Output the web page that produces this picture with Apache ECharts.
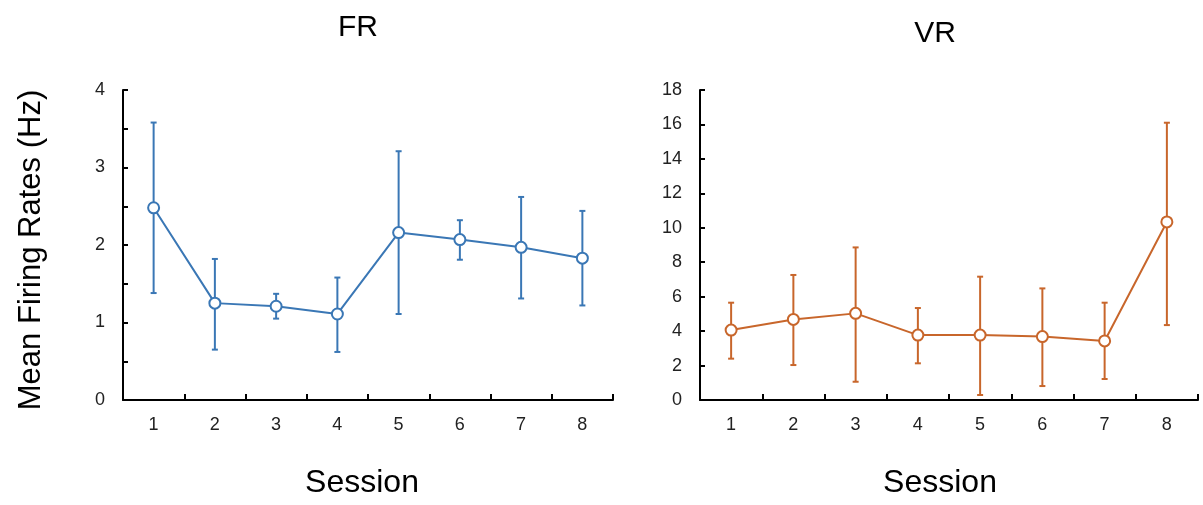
<!DOCTYPE html>
<html>
<head>
<meta charset="utf-8">
<script src="https://cdn.jsdelivr.net/npm/echarts@6/dist/echarts.min.js"></script>
<style>
html,body{margin:0;padding:0;background:#fff;}
#chart{width:1203px;height:505px;}
</style>
</head>
<body>
<div id="chart"></div>
<script>
// ---- data ----
var categories = ['1','2','3','4','5','6','7','8'];
var frMean  = [2.48, 1.25, 1.21, 1.11, 2.16, 2.07, 1.97, 1.83];
var frUpper = [3.58, 1.82, 1.37, 1.58, 3.21, 2.32, 2.62, 2.44];
var frLower = [1.38, 0.65, 1.05, 0.62, 1.11, 1.81, 1.31, 1.22];
var vrMean  = [4.06, 4.68, 5.03, 3.77, 3.77, 3.68, 3.43, 10.34];
var vrUpper = [5.65, 7.26, 8.86, 5.34, 7.16, 6.48, 5.65, 16.10];
var vrLower = [2.40, 2.03, 1.06, 2.13, 0.29, 0.81, 1.22, 4.35];
var titles = ['FR', 'VR'];
var xName = 'Session';
var yName = 'Mean Firing Rates (Hz)';

var FONT = 'Liberation Sans, Arial, sans-serif';
var BLUE = '#3a77b5';
var ORANGE = '#c8662b';

function errData(lo, hi) {
  return categories.map(function (c, i) { return [i, lo[i], hi[i]]; });
}
function errRender(color) {
  return function (params, api) {
    var x = api.value(0);
    var lo = api.coord([x, api.value(1)]);
    var hi = api.coord([x, api.value(2)]);
    var w = 3;
    var st = { stroke: color, lineWidth: 2 };
    return {
      type: 'group',
      children: [
        { type: 'line', shape: { x1: lo[0], y1: lo[1], x2: hi[0], y2: hi[1] }, style: st },
        { type: 'line', shape: { x1: hi[0] - w, y1: hi[1], x2: hi[0] + w, y2: hi[1] }, style: st },
        { type: 'line', shape: { x1: lo[0] - w, y1: lo[1], x2: lo[0] + w, y2: lo[1] }, style: st }
      ]
    };
  };
}
function xAxisCfg(idx, pad) {
  return {
    type: 'category', gridIndex: idx, data: categories, boundaryGap: true,
    axisLine: { lineStyle: { color: '#000', width: 2 } },
    axisTick: { show: true, interval: 0, inside: true, length: 6, lineStyle: { color: '#000', width: 2 } },
    axisLabel: { color: '#222', fontSize: 18, fontFamily: FONT, margin: 16, interval: 0 },
    name: xName, nameLocation: 'middle', nameGap: 67,
    nameTextStyle: { color: '#000', fontSize: 32, fontFamily: FONT, padding: pad }
  };
}
function yAxisCfg(idx, max, interval, intOnly) {
  return {
    type: 'value', gridIndex: idx, min: 0, max: max, interval: interval,
    splitLine: { show: false },
    axisLine: { show: true, lineStyle: { color: '#000', width: 2 } },
    axisTick: { show: true, inside: true, length: 5, lineStyle: { color: '#000', width: 2 } },
    axisLabel: {
      color: '#222', fontSize: 18, fontFamily: FONT, margin: 18,
      formatter: function (v) { return intOnly ? (Math.abs(v - Math.round(v)) < 1e-9 ? String(Math.round(v)) : '') : String(v); }
    }
  };
}
function lineSeries(idx, data, color) {
  return {
    type: 'line', xAxisIndex: idx, yAxisIndex: idx, data: data, z: 3,
    symbol: 'circle', symbolSize: 11,
    lineStyle: { color: color, width: 2 },
    itemStyle: { color: '#fff', borderColor: color, borderWidth: 2 }
  };
}

var chart = echarts.init(document.getElementById('chart'));
chart.setOption({
  animation: false,
  backgroundColor: '#fff',
  title: [
    { text: titles[0], left: 353, top: 8, textAlign: 'center',
      textStyle: { color: '#000', fontSize: 30, fontWeight: 'normal', fontFamily: FONT } },
    { text: titles[1], left: 930, top: 14, textAlign: 'center',
      textStyle: { color: '#000', fontSize: 30, fontWeight: 'normal', fontFamily: FONT } }
  ],
  grid: [
    { left: 123, top: 90, width: 490, height: 310 },
    { left: 700, top: 90, width: 498, height: 310 }
  ],
  xAxis: [xAxisCfg(0, [0, 12, 0, 0]), xAxisCfg(1, [0, 18, 0, 0])],
  yAxis: [yAxisCfg(0, 4, 0.5, true), yAxisCfg(1, 18, 2, false)],
  graphic: [{
    type: 'text', x: 31, y: 250, rotation: Math.PI / 2,
    style: { text: yName, fill: '#000', font: '31px ' + FONT, textAlign: 'center', textVerticalAlign: 'middle' }
  }],
  series: [
    { type: 'custom', xAxisIndex: 0, yAxisIndex: 0, data: errData(frLower, frUpper), renderItem: errRender(BLUE), z: 2 },
    lineSeries(0, frMean, BLUE),
    { type: 'custom', xAxisIndex: 1, yAxisIndex: 1, data: errData(vrLower, vrUpper), renderItem: errRender(ORANGE), z: 2 },
    lineSeries(1, vrMean, ORANGE)
  ]
});
</script>
</body>
</html>
